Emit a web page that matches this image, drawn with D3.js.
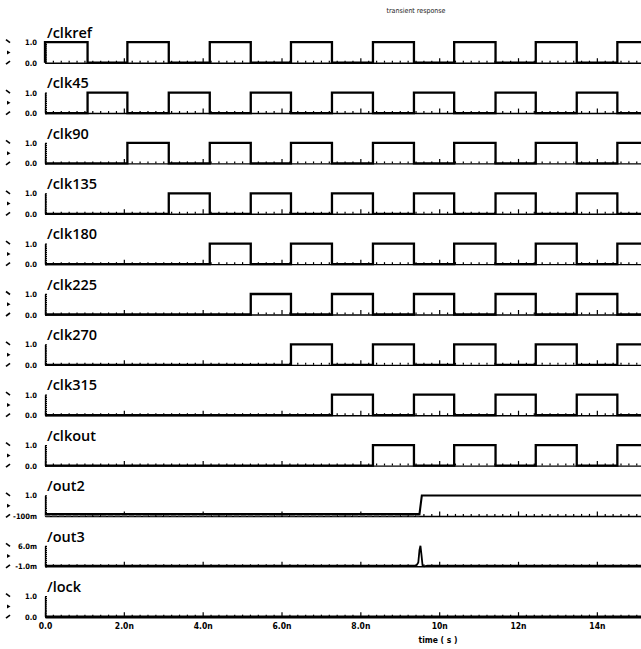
<!DOCTYPE html>
<html lang="en">
<head>
<meta charset="utf-8">
<title>transient response</title>
<script src="https://d3js.org/d3.v7.min.js"></script>
<style>
  body { margin: 0; background: #fff; }
</style>
</head>
<body>
<div id="chart"></div>
<script>
// one entry per strip, top to bottom
var stripNames = ["/clkref", "/clk45", "/clk90", "/clk135", "/clk180", "/clk225", "/clk270", "/clk315", "/clkout", "/out2", "/out3", "/lock"];
var topLabels = ["1.0", "1.0", "1.0", "1.0", "1.0", "1.0", "1.0", "1.0", "1.0", "1.0", "6.0m", "1.0"];
var bottomLabels = ["0.0", "0.0", "0.0", "0.0", "0.0", "0.0", "0.0", "0.0", "0.0", "-100m", "-1.0m", "0.0"];
var stripMin = [0, 0, 0, 0, 0, 0, 0, 0, 0, -0.1, -1.0, 0];
var stripMax = [1, 1, 1, 1, 1, 1, 1, 1, 1, 1, 6.0, 1];

// clock edges (ns), each clock starts toggling at its own edge
var edgeTimes = [0, 1.08, 2.09, 3.14, 4.18, 5.22, 6.24, 7.28, 8.32, 9.36, 10.38, 11.43, 12.45, 13.49, 14.52];
var firstEdge = [0, 1, 2, 3, 4, 5, 6, 7, 8];

var out2Time = [0, 9.50, 9.56, 15.3];
var out2Value = [0, 0, 1.0, 1.0];
var out3Time = [0, 9.42, 9.47, 9.50, 9.525, 9.55, 9.58, 9.62, 9.70, 15.3];  // mV
var out3Value = [-0.8, -0.8, 0.3, 4.5, 6.0, 3.0, -0.9, -1.0, -0.8, -0.8];
var lockTime = [0, 15.3];
var lockValue = [0, 0];

var xTicks = [0, 2, 4, 6, 8, 10, 12, 14];
var xTickLabels = ["0.0", "2.0n", "4.0n", "6.0n", "8.0n", "10n", "12n", "14n"];

var width = 641, height = 649;
var rowTop = 42.2, rowStep = 50.36, rowH = 20.5;
var tMax = 15.12;

var svg = d3.select("#chart")
  .append("svg")
  .attr("width", width)
  .attr("height", height)
  .style("font-family", "'DejaVu Sans Condensed', 'DejaVu Sans', sans-serif");

var x = d3.scaleLinear().domain([0, tMax]).range([45, 641]);

svg.append("text")
  .attr("x", 416).attr("y", 13)
  .attr("text-anchor", "middle")
  .style("font-size", "7px")
  .style("fill", "#222")
  .text("transient response");

var minorTicks = d3.range(0, 15.3, 0.2).filter(function(t) { return Math.abs(t / 2 - Math.round(t / 2)) > 0.01; });

function clockPoints(k) {
  var pts = [[0, 0]];
  var v = 1;
  for (var j = firstEdge[k]; j < edgeTimes.length; j++) {
    pts.push([edgeTimes[j], v]);
    v = 1 - v;
  }
  pts.push([15.3, 1 - v]);
  return pts;
}

function zipPoints(ts, vs) {
  return ts.map(function(t, i) { return [t, vs[i]]; });
}

stripNames.forEach(function(name, i) {
  var top = rowTop + i * rowStep, bottom = top + rowH;
  var y = d3.scaleLinear().domain([stripMin[i], stripMax[i]]).range([bottom, top]);
  var g = svg.append("g");
  var isLock = (i === stripNames.length - 1);

  // baseline with small upward ticks
  var base = g.append("g")
    .attr("transform", "translate(0," + bottom + ")")
    .call(d3.axisBottom(x).tickValues(minorTicks).tickSize(-2).tickSizeOuter(0).tickFormat(""));
  g.append("g")
    .attr("transform", "translate(0," + bottom + ")")
    .call(d3.axisBottom(x).tickValues(xTicks).tickSize(-4.5).tickSizeOuter(0).tickFormat(""))
    .select(".domain").remove();
  base.select(".domain").attr("stroke-width", isLock ? 2.5 : 1.4);
  g.selectAll(".tick line").attr("stroke-width", 1.2);

  // short dotted y axis at t = 0
  g.append("g")
    .attr("transform", "translate(45,0)")
    .call(d3.axisRight(y).tickValues(d3.range(0, 11).map(function(f) { return stripMin[i] + f * (stripMax[i] - stripMin[i]) / 10; }))
      .tickSize(2).tickSizeOuter(0).tickFormat(""))
    .selectAll("line, path").attr("stroke-width", 1.3);

  var pts, curve = d3.curveLinear;
  if (i < firstEdge.length) { pts = clockPoints(i); curve = d3.curveStepAfter; }
  else if (name === "/out2") pts = zipPoints(out2Time, out2Value);
  else if (name === "/out3") pts = zipPoints(out3Time, out3Value);
  else pts = zipPoints(lockTime, lockValue);

  if (name === "/out2") {
    // grey dashed band between the low level and the baseline
    g.append("path")
      .attr("d", "M" + x(out2Time[0]) + "," + (bottom - 0.9) + "H" + x(out2Time[1]))
      .attr("stroke", "#8a8a8a")
      .attr("stroke-width", 2.2)
      .attr("stroke-dasharray", "5,2");
  }

  g.append("path")
    .datum(pts)
    .attr("fill", "none")
    .attr("stroke", "#000")
    .attr("stroke-width", name === "/out3" ? 1.8 : (name === "/out2" ? 2.1 : 2.3))
    .attr("d", d3.line().curve(curve)
      .x(function(d) { return x(d[0]); })
      .y(function(d) { return y(d[1]); }));

  g.append("text")
    .attr("x", 47).attr("y", top - 4.3)
    .style("font-family", "'Open Sans', sans-serif")
    .style("font-size", "14.5px")
    .style("font-weight", 600)
    .text(name);

  g.append("text").attr("x", 37).attr("y", top + 3)
    .attr("text-anchor", "end").style("font-size", "7.5px").style("font-weight", "bold")
    .text(topLabels[i]);
  g.append("text").attr("x", 37).attr("y", bottom + 3)
    .attr("text-anchor", "end").style("font-size", "7.5px").style("font-weight", "bold")
    .text(bottomLabels[i]);

  // zoom arrows at the far left
  g.append("path").attr("d", "M6," + (top - 2.5) + "L10," + (top + 0.5))
    .attr("stroke", "#000").attr("stroke-width", 1.6);
  g.append("path").attr("d", "M7," + (top + 8.3) + "L10.5," + (top + 10.3) + "L7," + (top + 12.3) + "Z")
    .attr("fill", "#000");
  g.append("path").attr("d", "M6," + (bottom + 1.5) + "L10," + (bottom - 1.5))
    .attr("stroke", "#000").attr("stroke-width", 1.6);

  if (isLock) {
    g.append("g")
      .attr("transform", "translate(0," + bottom + ")")
      .call(d3.axisBottom(x).tickValues(xTicks).tickSize(0).tickPadding(6)
        .tickFormat(function(d, j) { return xTickLabels[j]; }))
      .call(function(a) { a.select(".domain").remove(); })
      .selectAll("text")
      .style("font-family", "'DejaVu Sans Condensed', sans-serif")
      .style("font-size", "8.5px")
      .style("font-weight", "bold");
  }
});

svg.append("text")
  .attr("x", 438).attr("y", 643)
  .attr("text-anchor", "middle")
  .style("font-size", "8.5px")
  .style("font-weight", "bold")
  .text("time ( s )");
</script>
</body>
</html>
